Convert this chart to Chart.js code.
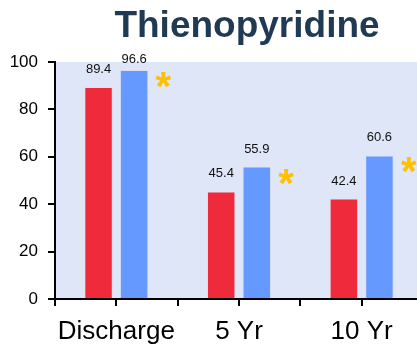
<!DOCTYPE html>
<html>
<head>
<meta charset="utf-8">
<script src="https://cdn.jsdelivr.net/npm/chart.js@4"></script>
<style>
  body { margin: 0; overflow: hidden; background: #fff; }
  #wrap { width: 424px; height: 344px; }
</style>
</head>
<body>
<div id="wrap"><canvas id="chart" width="424" height="344"></canvas></div>
<script>
// data
const categories = ['Discharge', '5 Yr', '10 Yr'];
const redValues = [89.4, 45.4, 42.4];
const blueValues = [96.6, 55.9, 60.6];
const significant = [true, true, true];
const yTicks = [0, 20, 40, 60, 80, 100];
const titleText = 'Thienopyridine';

// background, title, value labels, asterisks, centre ticks
const extras = {
    id: 'extras',
    beforeDraw(chart) {
        const { ctx, chartArea: a } = chart;
        ctx.save();
        ctx.fillStyle = '#dfe6f8';
        ctx.fillRect(a.left, a.top, a.right - a.left, a.bottom - a.top);
        ctx.restore();
    },
    afterDraw(chart) {
        const { ctx } = chart;
        const x = chart.scales.x;
        ctx.save();
        // title
        ctx.fillStyle = '#1f3a52';
        ctx.font = 'bold 37px "Liberation Sans", Arial, sans-serif';
        ctx.textAlign = 'center';
        ctx.textBaseline = 'alphabetic';
        ctx.fillText(titleText, 247, 37);

        // tick marks at the category centres
        ctx.strokeStyle = '#000';
        ctx.lineWidth = 2;
        categories.forEach((c, i) => {
            const px = Math.round(x.getPixelForValue(i));
            ctx.beginPath();
            ctx.moveTo(px, x.top);
            ctx.lineTo(px, x.top + 7);
            ctx.stroke();
        });

        // value labels
        ctx.fillStyle = '#111';
        ctx.font = '13px "Liberation Sans", Arial, sans-serif';
        chart.data.datasets.forEach((ds, di) => {
            chart.getDatasetMeta(di).data.forEach((bar, i) => {
                const y = Math.max(bar.y - 14, 63);
                ctx.fillText(ds.data[i].toFixed(1), bar.x, y);
            });
        });

        // asterisks
        ctx.fillStyle = '#ffc000';
        ctx.font = 'bold 40px "Liberation Sans", Arial, sans-serif';
        const blueMeta = chart.getDatasetMeta(1);
        blueMeta.data.forEach((bar, i) => {
            if (!significant[i]) return;
            const right = bar.x + bar.width / 2;
            ctx.fillText('*', right + 15, bar.y + 10 + 20);
        });
        ctx.restore();
    }
};

new Chart(document.getElementById('chart'), {
    type: 'bar',
    data: {
        labels: categories,
        datasets: [
            { data: redValues, backgroundColor: '#ee2a3b', borderColor: 'rgba(255,200,210,0.4)', borderWidth: 1 },
            { data: blueValues, backgroundColor: '#6699ff', borderColor: 'rgba(200,215,255,0.4)', borderWidth: 1 }
        ]
    },
    options: {
        responsive: false,
        animation: false,
        layout: { padding: { top: 62, left: 0, right: 1, bottom: 0 } },
        datasets: { bar: { categoryPercentage: 0.58, barPercentage: 0.8 } },
        plugins: { legend: { display: false }, tooltip: { enabled: false } },
        scales: {
            x: {
                afterFit(scale) { scale.height = 45; },
                grid: { offset: true, drawOnChartArea: false, color: '#000', lineWidth: 2, tickLength: 7 },
                border: { display: true, color: '#000', width: 2 },
                ticks: {
                    color: '#000',
                    padding: 10,
                    autoSkip: false,
                    maxRotation: 0,
                    font: { family: '"Liberation Sans", Arial, sans-serif', size: 26 }
                }
            },
            y: {
                min: 0,
                max: 100,
                afterFit(scale) { scale.width = 55; },
                afterBuildTicks(scale) { scale.ticks = yTicks.map(v => ({ value: v })); },
                grid: { drawOnChartArea: false, color: '#000', lineWidth: 2, tickLength: 7 },
                border: { display: true, color: '#000', width: 2 },
                ticks: {
                    color: '#000',
                    padding: 10,
                    font: { family: '"Liberation Sans", Arial, sans-serif', size: 17 }
                }
            }
        }
    },
    plugins: [extras]
});
</script>
</body>
</html>
